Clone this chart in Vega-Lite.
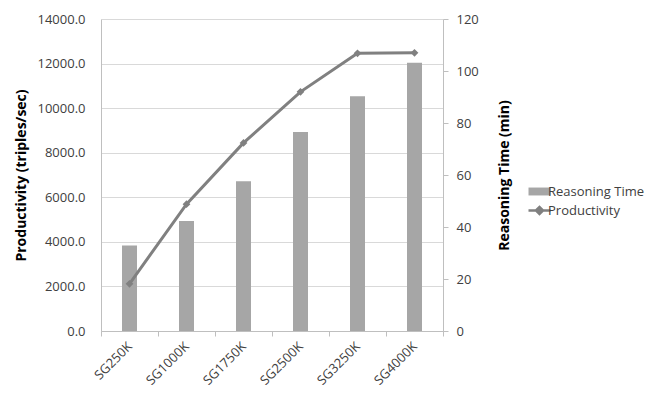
{
  "$schema": "https://vega.github.io/schema/vega-lite/v6.json",
  "width": 342,
  "height": 312,
  "autosize": "none",
  "padding": {"left": 101, "top": 19, "right": 220, "bottom": 68},
  "background": "white",
  "config": {
    "font": "Open Sans",
    "view": {"stroke": null},
    "axis": {"labelColor": "#404040", "titleColor": "#000000", "labelFontSize": 13, "titleFontSize": 14, "titleFontWeight": "bold", "domainColor": "#bfbfbf", "tickColor": "#bfbfbf", "gridColor": "#d9d9d9"}
  },
  "data": {"values": [
    {"dataset": "SG250K", "time": 32.9, "productivity": 2120},
    {"dataset": "SG1000K", "time": 42.3, "productivity": 5690},
    {"dataset": "SG1750K", "time": 57.6, "productivity": 8440},
    {"dataset": "SG2500K", "time": 76.5, "productivity": 10730},
    {"dataset": "SG3250K", "time": 90.3, "productivity": 12460},
    {"dataset": "SG4000K", "time": 103.2, "productivity": 12480}
  ]},
  "encoding": {
    "x": {"field": "dataset", "type": "nominal", "sort": null, "title": null,
      "scale": {"paddingInner": 0, "paddingOuter": 0},
      "axis": {"labelAngle": -45, "labelAlign": "right", "labelBaseline": "middle", "labelFontSize": 13, "labelColor": "#404040", "tickBand": "extent", "tickSize": 5, "labelPadding": 8, "domainColor": "#bfbfbf"}}
  },
  "layer": [
    {
      "mark": {"type": "bar", "width": 15},
      "encoding": {
        "y": {"field": "time", "type": "quantitative", "title": "Reasoning Time (min)",
          "scale": {"domain": [0, 120]},
          "axis": {"orient": "right", "values": [0, 20, 40, 60, 80, 100, 120], "grid": false, "tickSize": 5, "labelPadding": 8, "titlePadding": 33, "titleAngle": -90, "titleBaseline": "bottom"}},
        "color": {"datum": "Reasoning Time", "type": "nominal",
          "scale": {"domain": ["Reasoning Time", "Productivity"], "range": ["#a6a6a6", "#808080"]},
          "legend": {"title": null, "orient": "none", "legendX": 432, "legendY": 166, "labelFontSize": 13, "labelColor": "#404040", "rowPadding": 2, "symbolOffset": 0, "labelOffset": 2,
            "encode": {"symbols": {"update": {
              "shape": {"signal": "datum.value === 'Productivity' ? 'M-1,0L1,0M-0.32,0L0,-0.32L0.32,0L0,0.32Z' : 'M-1,-0.36L1,-0.36L1,0.36L-1,0.36Z'"},
              "size": {"value": 484},
              "fill": {"signal": "datum.value === 'Productivity' ? '#808080' : '#a6a6a6'"},
              "stroke": {"value": "#808080"},
              "strokeWidth": {"signal": "datum.value === 'Productivity' ? 2.5 : 0"},
              "opacity": {"value": 1}
            }}}}}
      }
    },
    {
      "mark": {"type": "line", "strokeWidth": 3, "point": {"shape": "diamond", "size": 60, "filled": true}},
      "encoding": {
        "y": {"field": "productivity", "type": "quantitative", "title": "Productivity (triples/sec)",
          "scale": {"domain": [0, 14000]},
          "axis": {"orient": "left", "values": [0, 2000, 4000, 6000, 8000, 10000, 12000, 14000], "format": ".1f", "grid": true, "ticks": false, "labelPadding": 16, "titlePadding": 8}},
        "color": {"datum": "Productivity", "type": "nominal"}
      }
    }
  ],
  "resolve": {"scale": {"y": "independent"}}
}
